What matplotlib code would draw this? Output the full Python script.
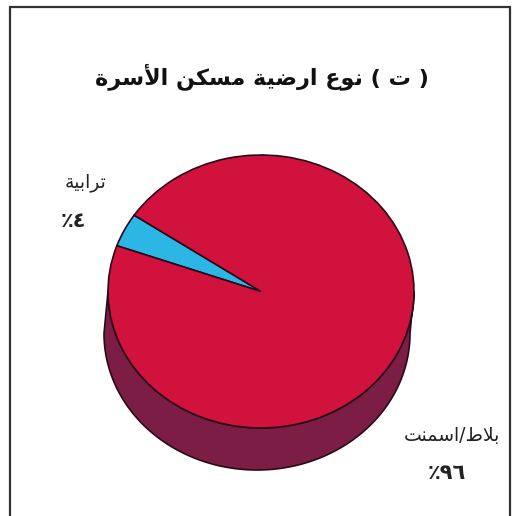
import numpy as np
import matplotlib
matplotlib.use('Agg')
import matplotlib.pyplot as plt
from matplotlib.patches import Polygon, Rectangle
from matplotlib.transforms import Affine2D

# Dados
titulo = '( ت ) نوع ارضية مسكن الأسرة'
categorias = ['ترابية', 'بلاط/اسمنت']
valores = [4, 96]
rotulos_pct = ['٪٤', '٪٩٦']  # ja em ordem visual
cores = ['#2cb6e6', '#d0123c']
cor_lado = '#7c1d45'

# Formas contextuais arabes (isolada, final, inicial, medial)
FORMAS = {
    'ا': ('\uFE8D', '\uFE8E', None, None),
    'أ': ('\uFE83', '\uFE84', None, None),
    'ب': ('\uFE8F', '\uFE90', '\uFE91', '\uFE92'),
    'ة': ('\uFE93', '\uFE94', None, None),
    'ت': ('\uFE95', '\uFE96', '\uFE97', '\uFE98'),
    'ر': ('\uFEAD', '\uFEAE', None, None),
    'س': ('\uFEB1', '\uFEB2', '\uFEB3', '\uFEB4'),
    'ض': ('\uFEBD', '\uFEBE', '\uFEBF', '\uFEC0'),
    'ط': ('\uFEC1', '\uFEC2', '\uFEC3', '\uFEC4'),
    'ع': ('\uFEC9', '\uFECA', '\uFECB', '\uFECC'),
    'ك': ('\uFED9', '\uFEDA', '\uFEDB', '\uFEDC'),
    'ل': ('\uFEDD', '\uFEDE', '\uFEDF', '\uFEE0'),
    'م': ('\uFEE1', '\uFEE2', '\uFEE3', '\uFEE4'),
    'ن': ('\uFEE5', '\uFEE6', '\uFEE7', '\uFEE8'),
    'و': ('\uFEED', '\uFEEE', None, None),
    'ي': ('\uFEF1', '\uFEF2', '\uFEF3', '\uFEF4'),
}
LAM_ALEF = {'ا': ('\uFEFB', '\uFEFC'), 'أ': ('\uFEF7', '\uFEF8')}


def junta_depois(c):
    return c in FORMAS and FORMAS[c][2] is not None


def arabe(texto):
    # monta as formas e devolve em ordem visual (esquerda -> direita)
    saida = []
    i = 0
    n = len(texto)
    while i < n:
        c = texto[i]
        ant = texto[i - 1] if i > 0 else ''
        prox = texto[i + 1] if i + 1 < n else ''
        liga_ant = junta_depois(ant)
        if c == 'ل' and prox in LAM_ALEF:
            saida.append(LAM_ALEF[prox][1 if liga_ant else 0])
            i += 2
            continue
        if c in FORMAS:
            iso, fin, ini, med = FORMAS[c]
            liga_prox = ini is not None and prox in FORMAS
            if liga_ant and liga_prox:
                f = med
            elif liga_ant:
                f = fin
            elif liga_prox:
                f = ini
            else:
                f = iso
            saida.append(f)
        else:
            saida.append({'(': ')', ')': '('}.get(c, c))
        i += 1
    return ''.join(reversed(saida))


fig = plt.figure(figsize=(5.12, 5.16), dpi=100)
ax = fig.add_axes([0, 0, 1, 1])
ax.set_xlim(0, 512)
ax.set_ylim(0, 516)
ax.axis('off')

# moldura
ax.add_patch(Rectangle((9.5, -5), 500.5, 514, fill=False, edgecolor='#333333', lw=1.6))

# geometria do cilindro (pixels, y para cima)
cx, cy = 261, 516 - 291.5
rx, ry = 153, 136.5
prof = 42
dx = -4

# lateral do cilindro
t = np.linspace(np.pi, 2 * np.pi, 200)
baixo = np.column_stack([cx + dx + rx * np.cos(t), cy - prof + ry * np.sin(t)])
topo = np.column_stack([cx + rx * np.cos(t[::-1]), cy + ry * np.sin(t[::-1])])
ax.add_patch(Polygon(np.vstack([baixo, topo]), closed=True, facecolor=cor_lado,
                     edgecolor='#2a0a18', lw=1.2))

# tampa superior: pizza achatada
fatias, _ = ax.pie(valores, colors=cores, startangle=146, counterclock=True,
                   wedgeprops=dict(edgecolor='#2a0a18', linewidth=1.2))
tr = Affine2D().scale(rx, ry).translate(cx, cy) + ax.transData
for w in fatias:
    w.set_transform(tr)
ax.set_xlim(0, 512)
ax.set_ylim(0, 516)
ax.set_aspect('auto')

fonte = ['DejaVu Sans']
ax.text(262, 516 - 77, arabe(titulo), ha='center', va='center', fontsize=16,
        fontweight='bold', family=fonte, color='#111111')
ax.text(86, 516 - 183, arabe(categorias[0]), ha='center', va='center', fontsize=13.5,
        family=fonte, color='#222222')
ax.text(73, 516 - 221, rotulos_pct[0], ha='center', va='center', fontsize=15,
        fontweight='bold', family=fonte, color='#222222')
ax.text(452, 516 - 435, arabe(categorias[1]), ha='center', va='center', fontsize=13.5,
        family=fonte, color='#222222')
ax.text(447, 516 - 473, rotulos_pct[1], ha='center', va='center', fontsize=15,
        fontweight='bold', family=fonte, color='#222222')

fig.savefig('out.png', dpi=100)
